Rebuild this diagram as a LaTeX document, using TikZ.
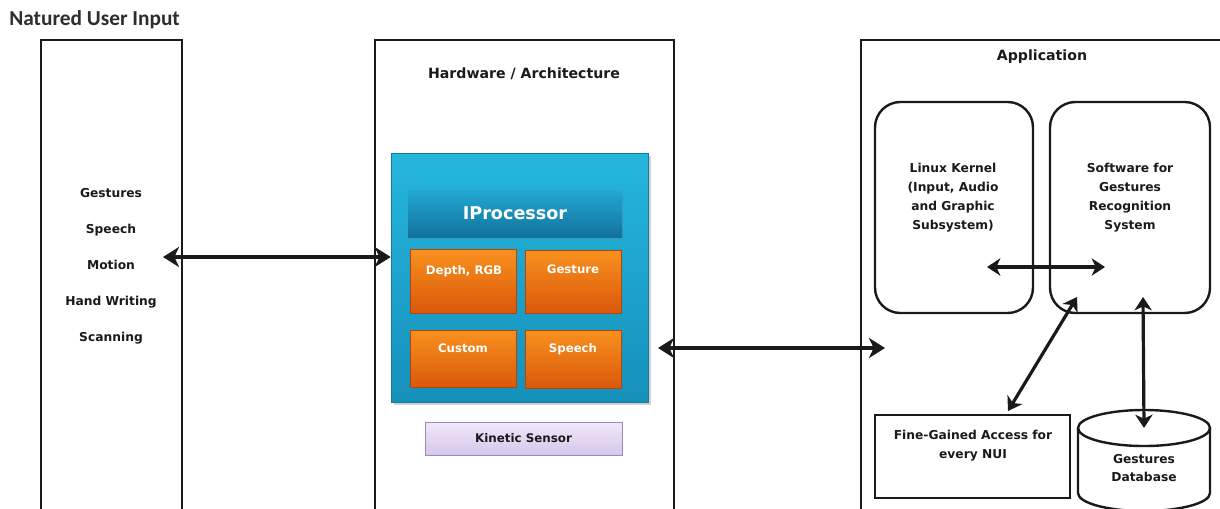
\documentclass[tikz,border=0pt]{standalone}
\usepackage{fontspec}
\setmainfont{DejaVu Sans}
\newfontfamily\titlefont{Carlito}
\usetikzlibrary{arrows.meta,fit,shadows}

\definecolor{ink}{HTML}{1A1A1A}
\definecolor{titlegray}{HTML}{2E2E2E}
\definecolor{procTop}{HTML}{25B6DC}
\definecolor{procBot}{HTML}{1590BB}
\definecolor{bannerTop}{HTML}{22A9D2}
\definecolor{bannerBot}{HTML}{12729C}
\definecolor{oraTop}{HTML}{F9911E}
\definecolor{oraBot}{HTML}{DA580B}
\definecolor{lavTop}{HTML}{F0E8F8}
\definecolor{lavBot}{HTML}{D6C7EA}
\definecolor{lavLine}{HTML}{9C8ABD}

\newcommand\headfont{\fontsize{10.6}{13}\bfseries\selectfont}
\newcommand\bodyfont{\fontsize{9.2}{14.2}\bfseries\selectfont}

\tikzset{
  panel/.style={draw=ink, line width=2pt, inner sep=0pt},
  roundbox/.style={draw=ink, line width=1.8pt, rounded corners=19pt, inner sep=0pt},
  plainbox/.style={draw=ink, line width=1.6pt, inner sep=0pt},
  txt/.style={text=ink, font=\bodyfont, align=center, inner sep=0pt},
  head/.style={text=ink, font=\headfont, inner sep=0pt},
  wtxt/.style={text=white, font=\fontsize{8.8}{10}\bfseries\selectfont, inner sep=0pt},
  orabox/.style={inner sep=0pt, top color=oraTop, bottom color=oraBot, draw=oraBot!80!black, line width=0.3pt,
                 drop shadow={shadow xshift=1pt, shadow yshift=-1pt, opacity=0.35}},
  tip/.tip={Stealth[length=12pt,width=15pt,inset=3.5pt]},
  link/.style={draw=ink, line width=2.6pt, tip-tip},
  applink/.style={draw=ink, line width=2.4pt, {Stealth[length=10pt,width=13pt,inset=3pt]}-{Stealth[length=10pt,width=13pt,inset=3pt]}}
}

\begin{document}
\begin{tikzpicture}[x=0.75pt, y=-0.75pt]
\useasboundingbox (0,0) rectangle (1220,508);
\fill[white] (0,0) rectangle (1220,508);

% title
\node[anchor=west, text=titlegray, font=\titlefont\bfseries\fontsize{16}{18}\selectfont, inner sep=0pt] (title) at (9,20) {Natured User Input};

% the three columns, running off the bottom of the page
\node[panel, fit={(41,40) (182,540)}] (nui) {};
\node[panel, fit={(375,40) (674,540)}] (hw) {};
\node[panel, fit={(861,40) (1240,540)}] (app) {};

% input modes
\node[txt, font=\fontsize{9.2}{27}\bfseries\selectfont] (modes) at (111,266)
  {Gestures\\Speech\\Motion\\Hand Writing\\Scanning};

% hardware column
\node[head] (hwlabel) at (524,74) {Hardware / Architecture};
\node[inner sep=0pt, top color=procTop, bottom color=procBot, draw=procBot!85!black, line width=0.4pt,
      drop shadow={shadow xshift=2pt, shadow yshift=-2pt, opacity=0.35},
      fit={(391,153) (648,402)}] (proc) {};
\node[inner sep=0pt, top color=bannerTop, bottom color=bannerBot,
      drop shadow={shadow xshift=1pt, shadow yshift=-1.5pt, opacity=0.3},
      fit={(408,190) (622,237)}] (banner) {};
\node[text=white, font=\fontsize{13.2}{15}\bfseries\selectfont, inner sep=0pt] (bannertxt) at (banner.center) {IProcessor};

\node[orabox, fit={(410,249) (516,313)}] (depth) {};
\node[orabox, fit={(525,250) (621,313)}] (gest) {};
\node[orabox, fit={(410,330) (516,387)}] (custom) {};
\node[orabox, fit={(525,330) (621,388)}] (speech) {};
\node[wtxt] (depthtxt) at (464,271) {Depth, RGB};
\node[wtxt] (gesttxt) at (573,269) {Gesture};
\node[wtxt] (customtxt) at (463,348) {Custom};
\node[wtxt] (speechtxt) at (573,349) {Speech};

\node[inner sep=0pt, top color=lavTop, bottom color=lavBot, draw=lavLine, line width=0.6pt,
      drop shadow={shadow xshift=1pt, shadow yshift=-1pt, opacity=0.25},
      fit={(425,422) (622,455)}] (kin) {};
\node[text=ink, font=\fontsize{8.9}{10}\bfseries\selectfont, inner sep=0pt] (kintxt) at (kin.center) {Kinetic Sensor};

% application column
\node[head] (applabel) at (1042,57) {Application};
\node[roundbox, fit={(875,102) (1033,313)}] (kernel) {};
\node[roundbox, fit={(1050,102) (1210,313)}] (soft) {};
\node[txt] (kerneltxt) at (953,198) {Linux Kernel\\(Input, Audio\\and Graphic\\Subsystem)};
\node[txt] (softtxt) at (1130,198) {Software for\\Gestures\\Recognition\\System};

\node[plainbox, fit={(875,415) (1070,498)}] (fine) {};
\node[txt] (finetxt) at (973,446) {Fine-Gained Access for\\every NUI};

% gestures database cylinder (y grows downwards here, so the lower arc runs 180 -> 0)
\draw[ink, line width=1.8pt, fill=white]
  (1078,428) -- (1078,493) arc[start angle=180, end angle=0, x radius=66, y radius=18]
  -- (1210,428);
\draw[ink, line width=1.8pt] (1144,428) ellipse[x radius=66, y radius=18];
\node[txt] (db) at (1144,468) {Gestures\\Database};
\coordinate (dbtop) at (1144,428);

% connectors
\coordinate (nuiEnd) at (163,257);
\draw[link] (nuiEnd) -- (nuiEnd -| proc.west);

\coordinate (appEnd) at (885,348);
\coordinate (procOut) at (658,348);
\draw[link] (procOut) -- (appEnd);

\coordinate (kIn) at (987,267);
\coordinate (sIn) at (1105,267);
\draw[applink] (kIn) -- (sIn);

\coordinate (sCorner) at (1077,297);
\coordinate (fineTop) at (1008,411);
\draw[applink] (sCorner) -- (fineTop);

\coordinate (sBottom) at (1143,297);
\draw[applink] (sBottom) -- (dbtop);
\end{tikzpicture}
\end{document}
